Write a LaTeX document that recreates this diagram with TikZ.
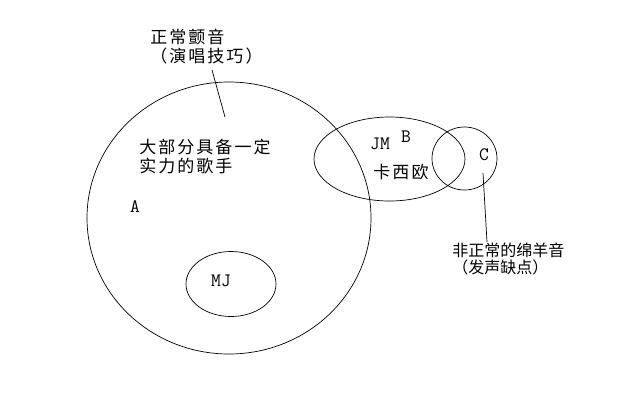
\documentclass[tikz,border=0pt]{standalone}
\usepackage{fontspec}
\usetikzlibrary{shapes.geometric}
\newfontfamily\cjk[LetterSpace=12]{Noto Sans CJK SC}
\newfontfamily\cjknarrow{Noto Sans CJK SC}
\begin{document}
\begin{tikzpicture}[x=1pt, y=-1pt, line width=0.7pt,
  set/.style = {draw, ellipse, inner sep=0pt},
  cn/.style = {inner sep=0pt, align=left, font={\cjk\fontsize{17}{19}\selectfont}},
  cnsmall/.style = {inner sep=0pt, align=left, font={\cjknarrow\fontsize{16}{17}\selectfont}},
  tag/.style = {inner sep=0pt, font={\ttfamily\fontsize{19}{21}\selectfont}}]
\useasboundingbox (0,0) rectangle (640,400);
% sets
\node[set, minimum width=284, minimum height=272] (A) at (229,218) {};
\node[set, minimum width=151, minimum height=84] (B) at (389.5,159) {};
\node[set, minimum width=65, minimum height=63] (C) at (464.5,158.5) {};
\node[set, minimum width=90, minimum height=65] (MJset) at (231,284) {};
% labels
\node[cn, anchor=west] (vibrato) at (150,47) {正常颤音\\（演唱技巧）};
\node[cn, anchor=west] (singers) at (139,157) {大部分具备一定\\实力的歌手};
\node[tag] (Alabel) at (135,207) {A};
\node[tag] (MJ) at (221,281) {MJ};
\node[tag] (JM) at (380,144) {JM};
\node[tag] (Blabel) at (406,137) {B};
\node[cn] (casio) at (401,172) {卡西欧};
\node[tag] (Clabel) at (484,155) {C};
\node[cnsmall, anchor=west] (bleat) at (452,259) {非正常的绵羊音\\（发声缺点）};
% pointer lines
\coordinate (vibtop) at (212,70);
\coordinate (vibend) at (225,117);
\coordinate (bleattop) at (483,173);
\coordinate (bleatend) at (487,242);
\draw (vibtop) -- (vibend);
\draw (bleattop) -- (bleatend);
\end{tikzpicture}
\end{document}
